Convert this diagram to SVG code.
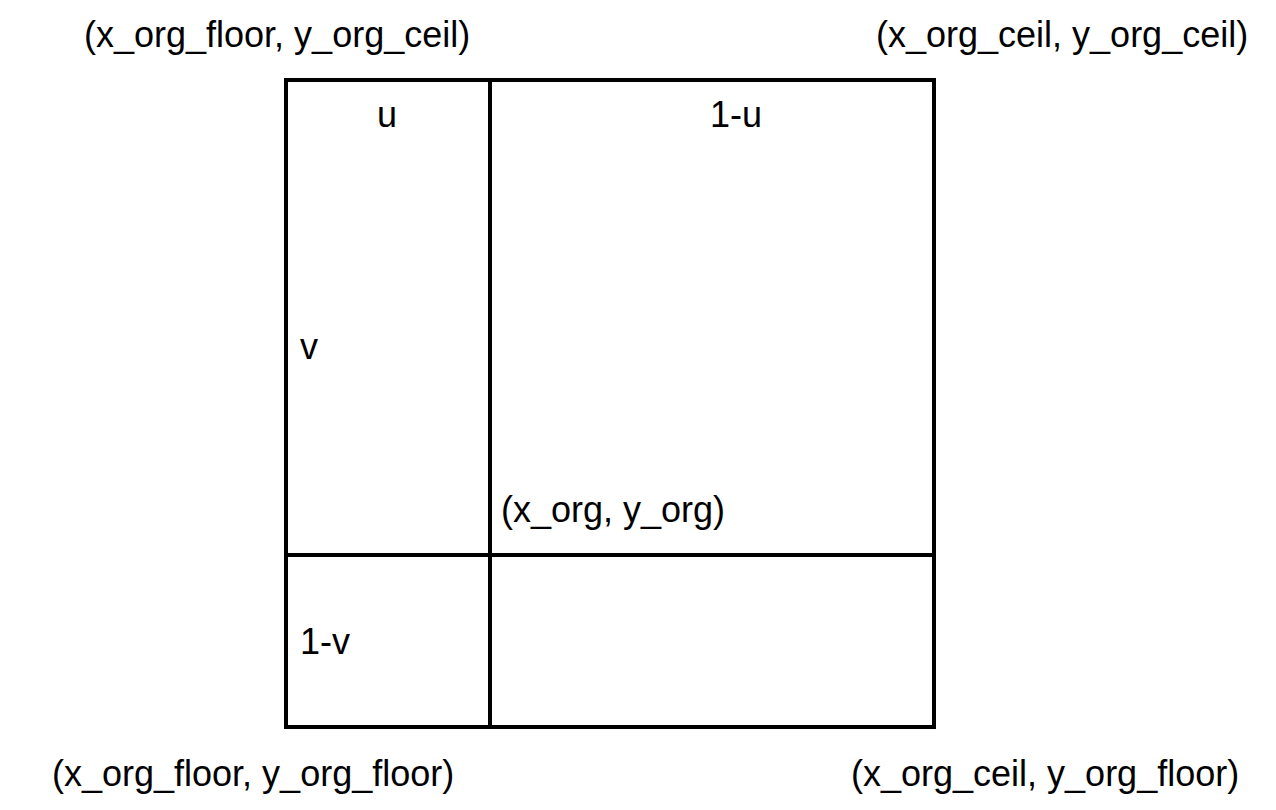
<svg xmlns="http://www.w3.org/2000/svg" width="1276" height="810" viewBox="0 0 1276 810">
<style>
.t{font-family:"Liberation Sans",Arial,sans-serif;font-size:36px;fill:#000}
.ln{stroke:#000;stroke-width:4;fill:none}
</style>
<rect width="1276" height="810" fill="#fff"/>
<g id="grid">
<rect class="ln" x="286" y="80" width="648" height="647"/>
<line class="ln" x1="490" y1="80" x2="490" y2="727"/>
<line class="ln" x1="286" y1="555" x2="934" y2="555"/>
</g>
<g id="labels">
<text class="t" x="84" y="47">(x_org_floor, y_org_ceil)</text>
<text class="t" x="876" y="47">(x_org_ceil, y_org_ceil)</text>
<text class="t" x="52" y="786">(x_org_floor, y_org_floor)</text>
<text class="t" x="851" y="786">(x_org_ceil, y_org_floor)</text>
<text class="t" x="377" y="127">u</text>
<text class="t" x="710" y="127">1-u</text>
<text class="t" x="300" y="359">v</text>
<text class="t" x="300" y="654">1-v</text>
<text class="t" x="501" y="522">(x_org, y_org)</text>
</g>
</svg>
